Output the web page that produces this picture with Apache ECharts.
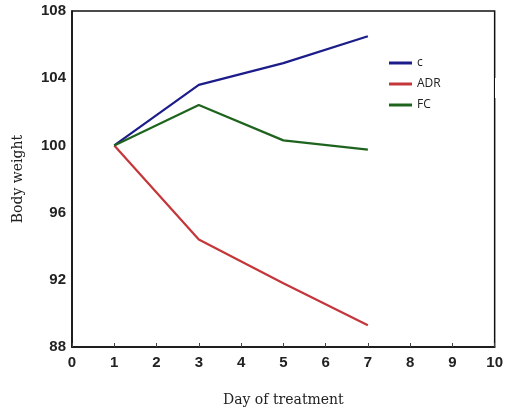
<!DOCTYPE html>
<html>
<head>
<meta charset="utf-8">
<script src="https://cdn.jsdelivr.net/npm/echarts@6/dist/echarts.min.js"></script>
<style>
html, body { margin: 0; padding: 0; background: #fff; }
#chart { width: 506px; height: 412px; }
</style>
</head>
<body>
<div id="chart"></div>
<script>
// days of treatment
var days = [1, 3, 5, 7]
// body weight per group
var cValues = [100, 103.6, 104.9, 106.5]
var adrValues = [100, 94.4, 91.8, 89.3]
var fcValues = [100, 102.4, 100.3, 99.75]

var seriesNames = ['c', 'ADR', 'FC']
var seriesColors = ['#1c1c8a', '#c4363a', '#1e641e']

function pairs(xs, ys) {
	return xs.map(function (x, i) { return [x, ys[i]] })
}

var tickFont = {
	fontFamily: "'Liberation Sans Narrow', 'Liberation Sans', Arial, sans-serif",
	fontWeight: 'bold',
	fontSize: 15,
	color: '#222'
}

var chart = echarts.init(document.getElementById('chart'))
var option = {
	animation: false,
	backgroundColor: '#fff',
	grid: {
		left: 72, right: 5, top: 11, bottom: 64,
		show: true, borderColor: '#111', borderWidth: 1.5
	},
	legend: {
		orient: 'vertical',
		left: 384, top: 52,
		itemWidth: 23, itemHeight: 3,
		itemGap: 9,
		icon: 'rect',
		textStyle: { fontFamily: 'Open Sans', fontSize: 12, color: '#222' },
		data: seriesNames
	},
	xAxis: {
		type: 'value', min: 0, max: 10, interval: 1,
		name: 'Day of treatment',
		nameLocation: 'middle', nameGap: 46,
		nameTextStyle: { fontFamily: 'DejaVu Serif', fontSize: 14, color: '#222' },
		axisLine: { lineStyle: { color: '#111', width: 1.5 } },
		axisTick: { inside: true, length: 4, lineStyle: { color: '#444' } },
		axisLabel: Object.assign({ margin: 8 }, tickFont),
		splitLine: { show: false }
	},
	yAxis: {
		type: 'value', min: 88, max: 108, interval: 4,
		name: 'Body weight',
		nameLocation: 'middle', nameGap: 47,
		nameTextStyle: { fontFamily: 'DejaVu Serif', fontSize: 14, color: '#222' },
		axisLine: { lineStyle: { color: '#111', width: 1.5 } },
		axisTick: { show: false },
		axisLabel: Object.assign({ margin: 6 }, tickFont),
		splitLine: { show: false }
	},
	series: [cValues, adrValues, fcValues].map(function (vals, i) {
		return {
			name: seriesNames[i],
			type: 'line',
			data: pairs(days, vals),
			showSymbol: false,
			color: seriesColors[i],
			lineStyle: { width: 2.2, color: seriesColors[i] }
		}
	}),
	graphic: [{
		type: 'rect',
		shape: { x: 495, y: 78, width: 11, height: 20 },
		style: { fill: '#fff' },
		z: 100
	}]
}
chart.setOption(option)
</script>
</body>
</html>
